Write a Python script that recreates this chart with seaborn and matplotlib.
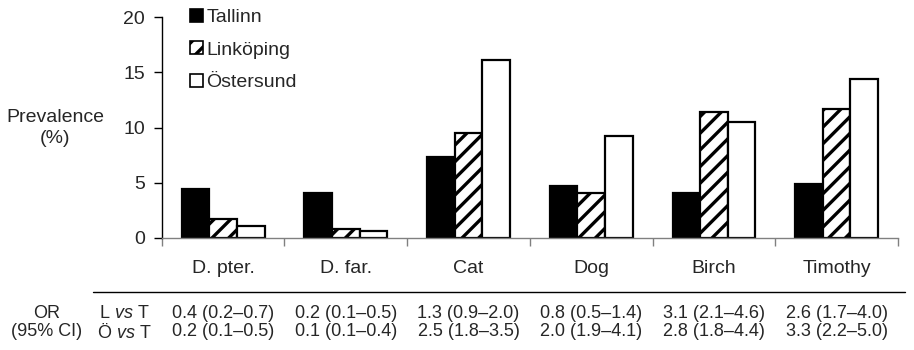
import matplotlib
matplotlib.use("Agg")
import matplotlib.pyplot as plt
import matplotlib.transforms as mtransforms
from matplotlib.patches import Patch
from matplotlib.lines import Line2D
import seaborn as sns
import pandas as pd
import numpy as np

# Sensitisation prevalence (%) per allergen and city
allergens = ["D. pter.", "D. far.", "Cat", "Dog", "Birch", "Timothy"]
cities = ["Tallinn", "Linköping", "Östersund"]
tallinn = [4.4, 4.1, 7.3, 4.7, 4.1, 4.9]
linkoping = [1.7, 0.8, 9.5, 4.1, 11.4, 11.7]
ostersund = [1.1, 0.6, 16.1, 9.2, 10.5, 14.4]

# Odds ratios (95% CI) relative to Tallinn
or_l_vs_t = ["0.4 (0.2–0.7)", "0.2 (0.1–0.5)", "1.3 (0.9–2.0)",
             "0.8 (0.5–1.4)", "3.1 (2.1–4.6)", "2.6 (1.7–4.0)"]
or_o_vs_t = ["0.2 (0.1–0.5)", "0.1 (0.1–0.4)", "2.5 (1.8–3.5)",
             "2.0 (1.9–4.1)", "2.8 (1.8–4.4)", "3.3 (2.2–5.0)"]
y_ticks = [0, 5, 10, 15, 20]

sns.set_theme(style="white")
plt.rcParams["font.family"] = ["Liberation Sans", "DejaVu Sans"]
plt.rcParams["mathtext.fontset"] = "custom"
plt.rcParams["mathtext.rm"] = "Liberation Sans"
plt.rcParams["mathtext.it"] = "Liberation Sans:italic"
plt.rcParams["hatch.linewidth"] = 2.4
plt.rcParams["hatch.color"] = "black"

df = pd.DataFrame({
    "Allergen": allergens * 3,
    "City": np.repeat(cities, len(allergens)),
    "Prevalence": tallinn + linkoping + ostersund,
})

FS = 14
FS_TAB = 13

fig = plt.figure(figsize=(9.14, 3.5), dpi=100)
ax = fig.add_axes([0.177, 0.32, 0.8055, 0.631])

sns.barplot(data=df, x="Allergen", y="Prevalence", hue="City",
            order=allergens, hue_order=cities,
            palette=["black", "white", "white"], saturation=1,
            width=0.675, edgecolor="black", linewidth=1.6,
            legend=False, ax=ax)

for bar in ax.containers[1]:
    bar.set_hatch("//")

ax.set_xlim(-0.5, len(allergens) - 0.5)
ax.set_ylim(0, 20)
ax.set_yticks(y_ticks)
ax.set_xlabel("")
ax.set_ylabel("")

for s in ("top", "right"):
    ax.spines[s].set_visible(False)
ax.spines["left"].set_color("black")
ax.spines["left"].set_linewidth(1.0)
ax.spines["bottom"].set_color("#808080")
ax.spines["bottom"].set_linewidth(1.0)

ax.tick_params(axis="y", which="major", direction="out", length=6,
               width=1, color="black", labelsize=FS, pad=6, left=True)
ax.set_xticks(range(len(allergens)))
ax.set_xticklabels(allergens)
ax.tick_params(axis="x", which="major", length=0, labelsize=FS, pad=16)
ax.set_xticks(np.arange(-0.5, len(allergens), 1.0), minor=True)
ax.tick_params(axis="x", which="minor", direction="out", length=6,
               width=1, color="#808080", bottom=True)

fig.text(55 / 914, 1 - 128 / 350, "Prevalence\n(%)", ha="center",
         va="center", fontsize=FS, linespacing=1.35)

handles = [
    Patch(facecolor="black", edgecolor="black", linewidth=1.2),
    Patch(facecolor="white", edgecolor="black", linewidth=1.2, hatch="//"),
    Patch(facecolor="white", edgecolor="black", linewidth=1.2),
]
fig.legend(handles, cities, loc="upper left",
           bbox_to_anchor=(190 / 914, 1 - 9 / 350), frameon=False,
           fontsize=FS, handlelength=0.65, handleheight=0.65,
           handletextpad=0.2, labelspacing=0.78, borderpad=0,
           borderaxespad=0)

# Odds-ratio table under the axis
fig.add_artist(Line2D([93 / 914, 905 / 914], [1 - 292 / 350] * 2,
                      transform=fig.transFigure, color="black", lw=1.0))
trans = mtransforms.blended_transform_factory(ax.transData, fig.transFigure)
y_row1 = 1 - 313 / 350
y_row2 = 1 - 332 / 350
fig.text(47 / 914, y_row1, "OR", ha="center", va="center", fontsize=FS_TAB)
fig.text(47 / 914, y_row2, "(95% CI)", ha="center", va="center",
         fontsize=FS_TAB)
fig.text(124 / 914, y_row1, r"L $\mathit{vs}$ T", ha="center", va="center",
         fontsize=FS_TAB)
fig.text(124 / 914, y_row2, r"Ö $\mathit{vs}$ T", ha="center", va="center",
         fontsize=FS_TAB)
for i, (a, b) in enumerate(zip(or_l_vs_t, or_o_vs_t)):
    ax.text(i, y_row1, a, transform=trans, ha="center", va="center",
            fontsize=FS_TAB)
    ax.text(i, y_row2, b, transform=trans, ha="center", va="center",
            fontsize=FS_TAB)

fig.savefig("out.png", dpi=100)
